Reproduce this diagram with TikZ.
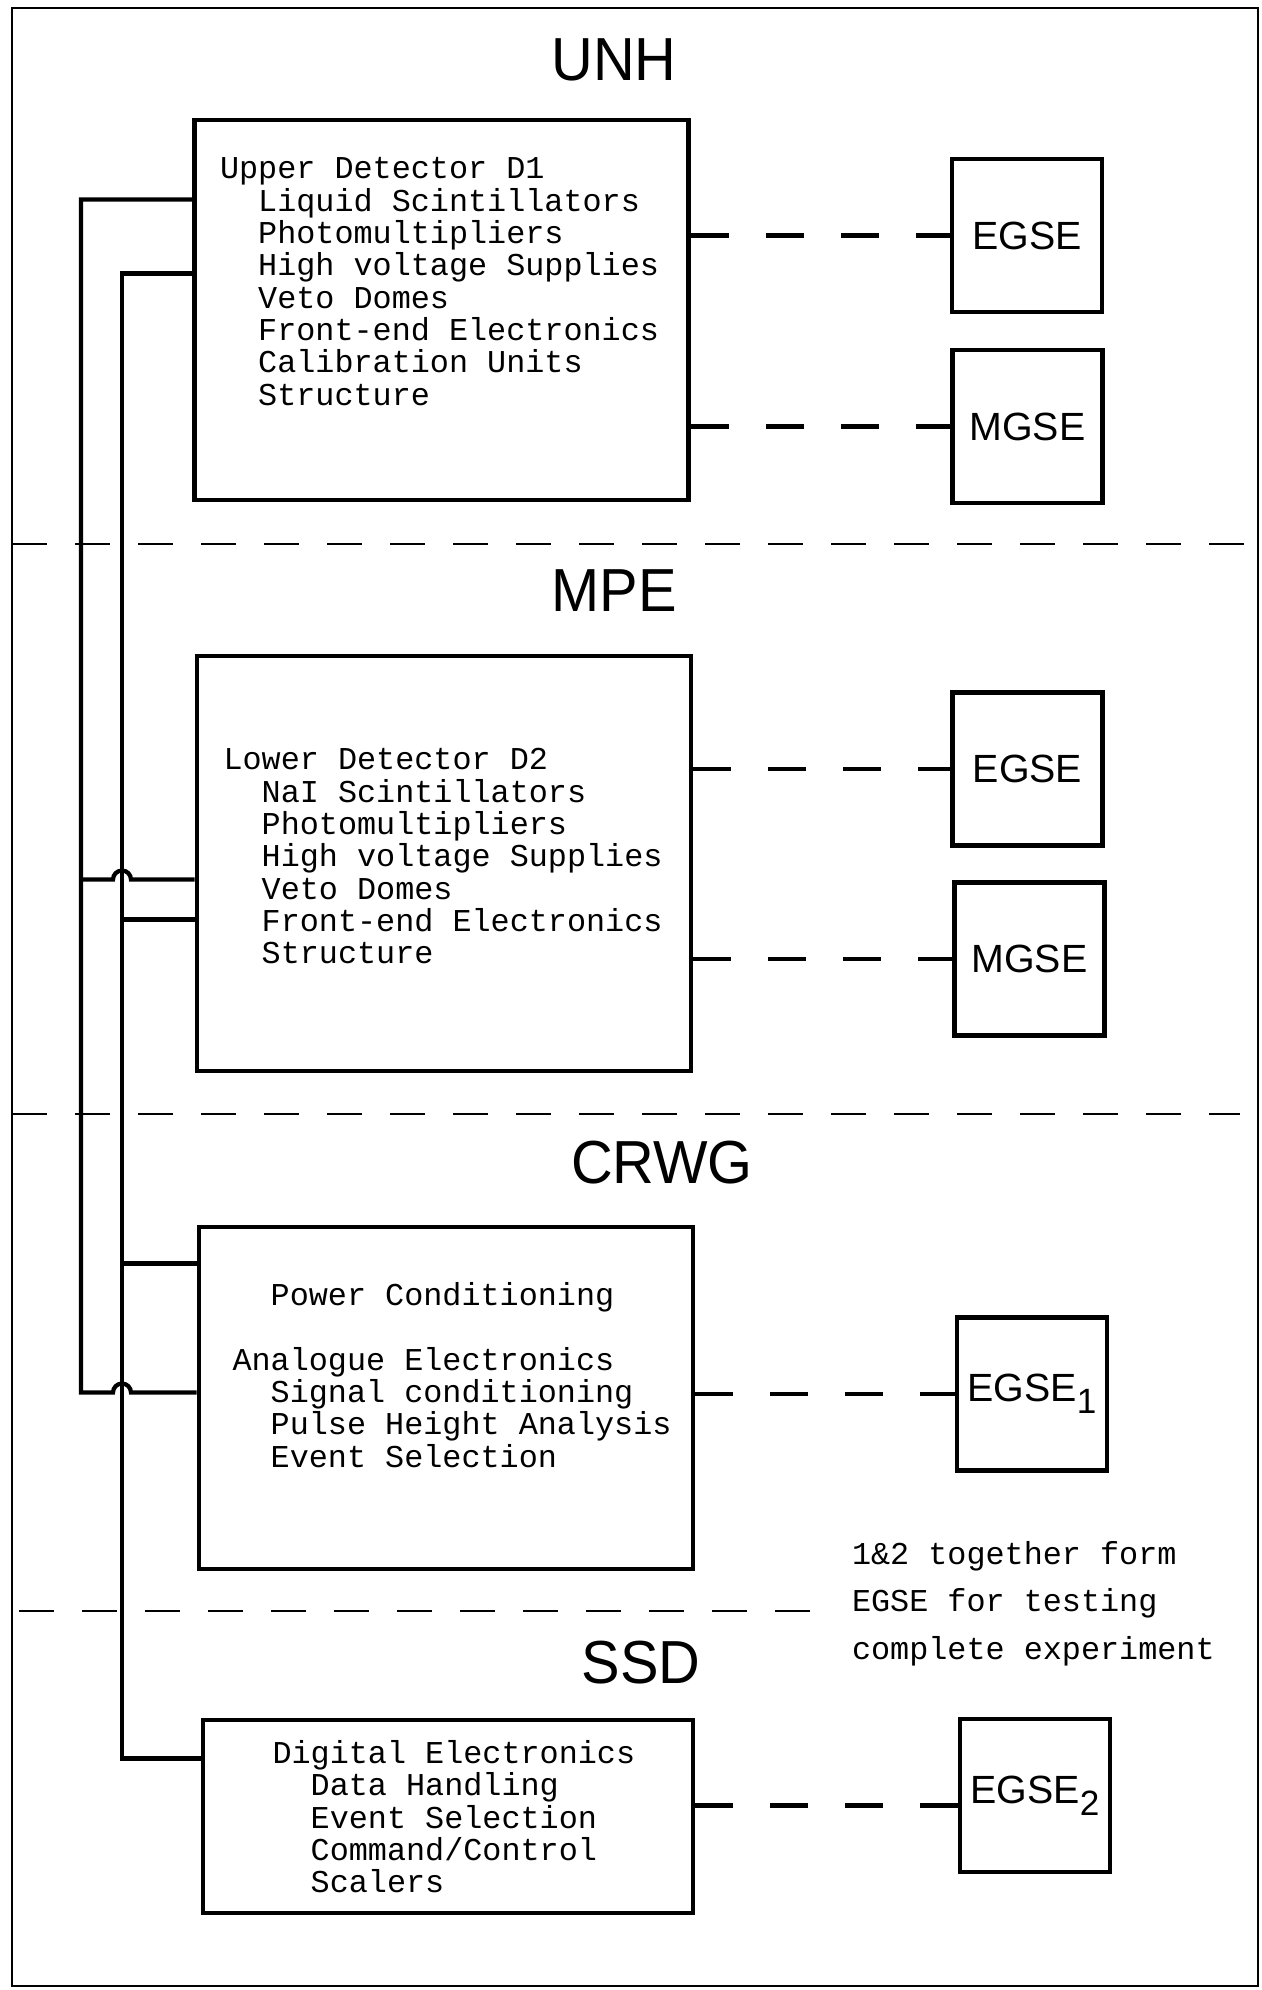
\documentclass[tikz,border=0pt]{standalone}
\usepackage{fontspec}
\newfontfamily\typefont{Liberation Mono}
\newfontfamily\headfont[FakeStretch=0.95]{Liberation Sans}
\newfontfamily\gsefont{Liberation Sans}
\usetikzlibrary{positioning,calc}
\newcommand{\ind}{\hspace*{1.2em}}
\newcommand{\gsesub}[1]{\raisebox{-3.5pt}{\fontsize{10}{10}\selectfont #1}}

\begin{document}
\begin{tikzpicture}[
  blk/.style={rectangle, draw, line width=1.4pt, minimum width=4.94cm, inner sep=0pt},
  gse/.style={rectangle, draw, line width=1.4pt, minimum width=1.5cm, minimum height=1.53cm, inner sep=0pt, font=\gsefont\fontsize{11.2}{11.2}\selectfont},
  listing/.style={inner sep=0pt, outer sep=0pt, align=left, font=\typefont\fontsize{9.05}{9.2}\selectfont},
  head/.style={font=\headfont\fontsize{17.3}{17.3}\selectfont, inner sep=0pt},
  wire/.style={line width=1.2pt},
  link/.style={line width=1.3pt, dash pattern=on 0.38cm off 0.37cm},
  sep/.style={line width=0.8pt, dash pattern=on 0.35cm off 0.28cm}
]
\useasboundingbox (0,0) rectangle (12.61,-19.90);
\draw[line width=0.6pt] (0.12,-0.08) rectangle (12.58,-19.86);

% UNH
\node[head] (unh) at (6.14,-0.60) {UNH};
\node[blk, minimum height=3.80cm] (d1) at (4.415,-3.10) {};
\node[listing, below right=0.40cm and 0.28cm of d1.north west] (d1txt) {Upper Detector D1\\\ind Liquid Scintillators\\\ind Photomultipliers\\\ind High voltage Supplies\\\ind Veto Domes\\\ind Front-end Electronics\\\ind Calibration Units\\\ind Structure};
\node[gse] (eg1) at (10.27,-2.355) {EGSE};
\node[gse] (mg1) at (10.275,-4.265) {MGSE};
\draw[link] (d1.east |- eg1.west) -- (eg1.west);
\draw[link] (d1.east |- mg1.west) -- (mg1.west);

\draw[sep] (0.12,-5.44) -- (12.58,-5.44);

% MPE
\node[head] (mpe) at (6.14,-5.91) {MPE};
\node[blk, minimum height=4.15cm] (d2) at (4.44,-8.635) {};
\node[listing, below right=0.95cm and 0.29cm of d2.north west] (d2txt) {Lower Detector D2\\\ind NaI Scintillators\\\ind Photomultipliers\\\ind High voltage Supplies\\\ind Veto Domes\\\ind Front-end Electronics\\\ind Structure};
\node[gse] (eg2) at (10.275,-7.69) {EGSE};
\node[gse] (mg2) at (10.295,-9.59) {MGSE};
\draw[link] (d2.east |- eg2.west) -- (eg2.west);
\draw[link] (d2.east |- mg2.west) -- (mg2.west);

\draw[sep] (0.12,-11.14) -- (12.40,-11.14);

% CRWG
\node[head] (crwg) at (6.62,-11.63) {CRWG};
\node[blk, minimum height=3.42cm] (cr) at (4.46,-13.98) {};
\node[listing, below right=0.58cm and 0.36cm of cr.north west] (crtxt) {\ind Power Conditioning\\[9.2pt]Analogue Electronics\\\ind Signal conditioning\\\ind Pulse Height Analysis\\\ind Event Selection};
\node[gse] (egse1) at (10.32,-13.94) {EGSE\gsesub{1}};
\draw[link] (cr.east |- egse1.west) -- (egse1.west);

\draw[sep] (0.19,-16.11) -- (8.25,-16.11);
\node[listing, anchor=north west, font=\typefont\fontsize{9.05}{13.6}\selectfont] (note) at (8.52,-15.41) {1\&2 together form\\EGSE for testing\\complete experiment};

% SSD
\node[head] (ssd) at (6.41,-16.63) {SSD};
\node[blk, minimum width=4.90cm, minimum height=1.93cm] (dg) at (4.48,-18.165) {};
\node[listing, below right=0.23cm and 0.72cm of dg.north west] (dgtxt) {Digital Electronics\\\ind Data Handling\\\ind Event Selection\\\ind Command/Control\\\ind Scalers};
\node[gse] (egse2) at (10.35,-17.955) {EGSE\gsesub{2}};
\draw[link] ([yshift=-0.1cm]egse2.west -| dg.east) -- ([yshift=-0.1cm]egse2.west);

% Verdrahtung links
\coordinate (busA) at (0.81,0);
\coordinate (busB) at (1.22,0);
\coordinate (d1A) at ([yshift=-0.82cm]d1.north west);
\coordinate (d1B) at ([yshift=-1.56cm]d1.north west);
\coordinate (d2A) at ([yshift=-2.26cm]d2.north west);
\coordinate (d2B) at ([yshift=-2.66cm]d2.north west);
\coordinate (crB) at ([yshift=-0.39cm]cr.north west);
\coordinate (crA) at ([yshift=-1.68cm]cr.north west);
\coordinate (dgB) at ([yshift=-0.41cm]dg.north west);

\draw[wire] (d1A) -| (busA |- crA) -- ($(busB |- crA)+(-0.09,0)$) arc[start angle=180, end angle=0, radius=0.09] -- (crA);
\draw[wire] (d1B) -| (busB |- dgB) -- (dgB);
\draw[wire] (busA |- d2A) -- ($(busB |- d2A)+(-0.09,0)$) arc[start angle=180, end angle=0, radius=0.09] -- (d2A);
\draw[wire] (busB |- d2B) -- (d2B);
\draw[wire] (busB |- crB) -- (crB);

\end{tikzpicture}
\end{document}
